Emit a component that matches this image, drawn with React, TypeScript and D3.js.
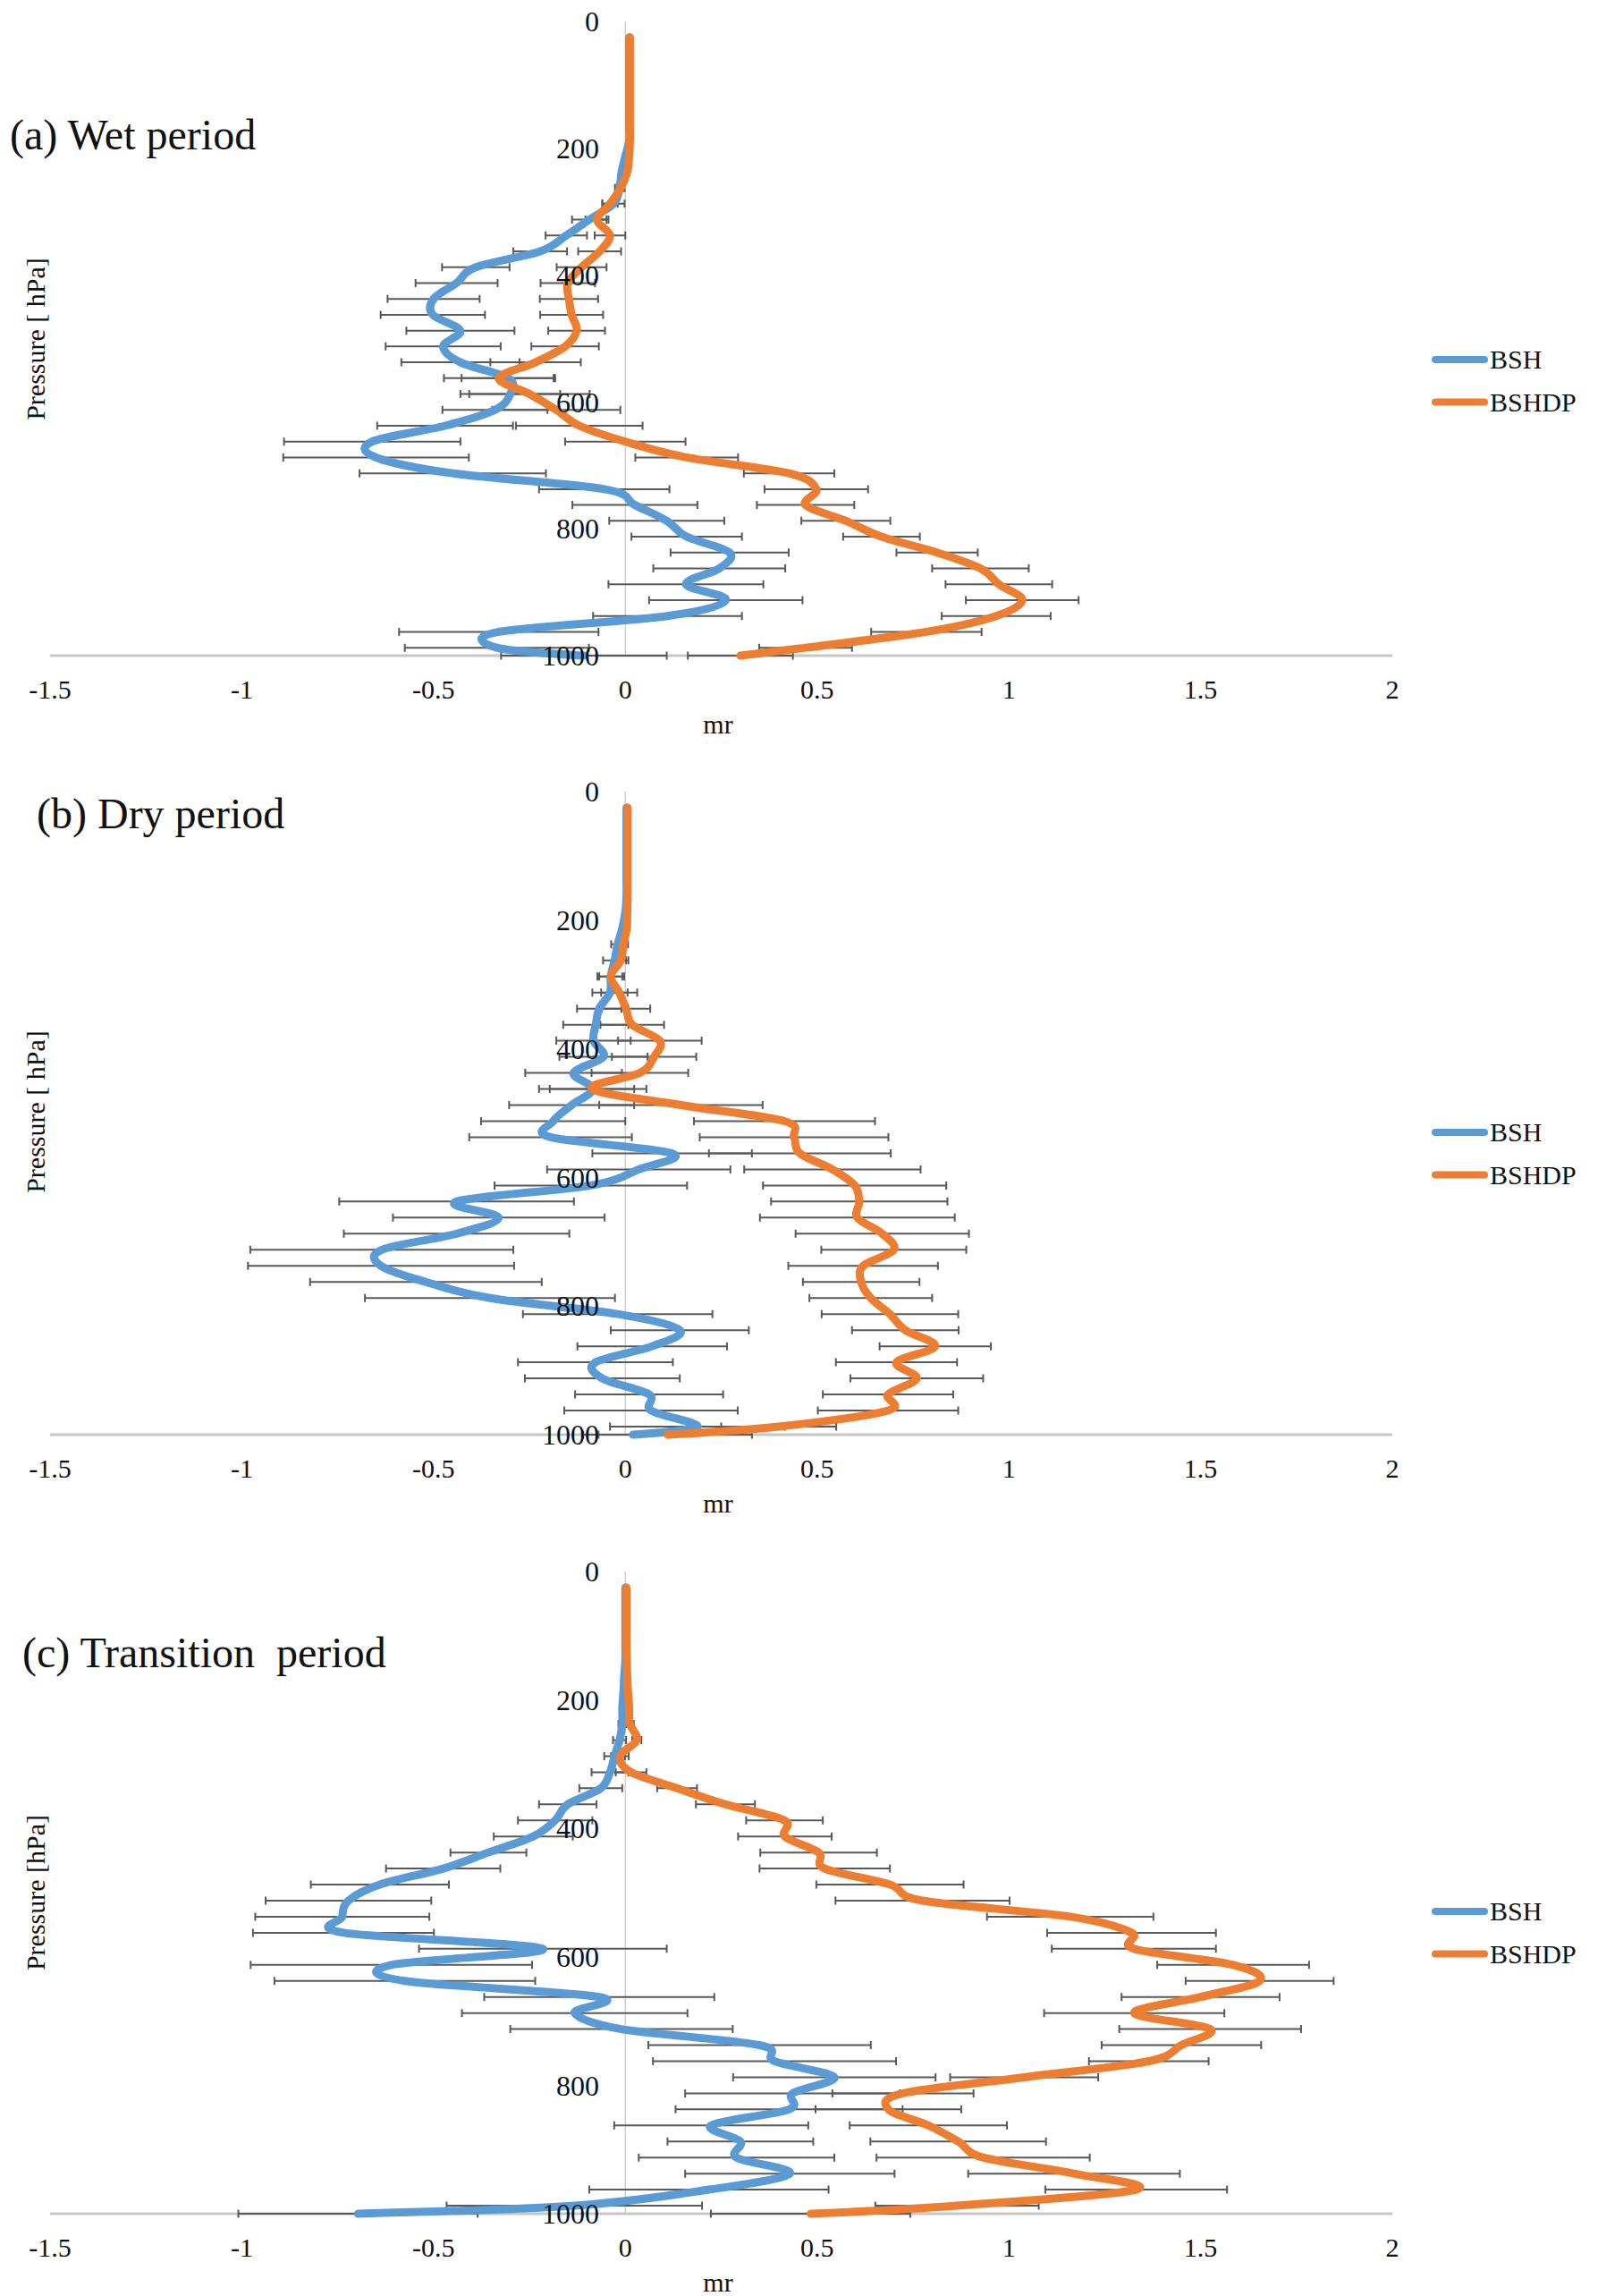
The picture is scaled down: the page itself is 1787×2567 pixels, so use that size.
import React from 'react';
import * as d3 from 'd3';

// Pressure levels (hPa) of the profile points
const PRESSURE = [25, 62.5, 87.5, 112.5, 137.5, 162.5, 187.5, 212.5, 237.5, 262.5, 287.5, 312.5, 337.5, 362.5, 387.5, 412.5, 437.5, 462.5, 487.5, 512.5, 537.5, 562.5, 587.5, 612.5, 637.5, 662.5, 687.5, 712.5, 737.5, 762.5, 787.5, 812.5, 837.5, 862.5, 887.5, 912.5, 937.5, 962.5, 987.5, 1000];

const X_TICKS = [-1.5, -1, -0.5, 0, 0.5, 1, 1.5, 2];
const Y_TICKS = [0, 200, 400, 600, 800, 1000];
const SERIES_NAMES = ['BSH', 'BSHDP'];

// (a) Wet period
const WET_BSH = [0.01, 0.01, 0.01, 0.01, 0.01, 0.01, 0.01, 0.0, -0.01, -0.015, -0.031, -0.094, -0.154, -0.222, -0.39, -0.44, -0.5, -0.502, -0.43, -0.475, -0.43, -0.305, -0.3, -0.34, -0.47, -0.66, -0.65, -0.45, -0.055, 0.025, 0.108, 0.16, 0.272, 0.245, 0.158, 0.262, 0.11, -0.33, -0.335, -0.108];
const WET_BSH_ERR = [0, 0, 0, 0, 0, 0, 0, 0, 0.005, 0.012, 0.029, 0.045, 0.054, 0.07, 0.088, 0.107, 0.12, 0.136, 0.141, 0.15, 0.154, 0.122, 0.13, 0.137, 0.177, 0.23, 0.242, 0.243, 0.17, 0.163, 0.15, 0.144, 0.154, 0.172, 0.202, 0.2, 0.194, 0.26, 0.24, 0.216];
const WET_BSHDP = [0.012, 0.012, 0.012, 0.012, 0.012, 0.012, 0.012, 0.01, 0.005, -0.012, -0.04, -0.074, -0.04, -0.067, -0.114, -0.15, -0.147, -0.14, -0.127, -0.157, -0.234, -0.33, -0.25, -0.18, -0.12, 0.0, 0.16, 0.427, 0.498, 0.47, 0.575, 0.668, 0.813, 0.926, 0.974, 1.035, 0.967, 0.785, 0.47, 0.3];
const WET_BSHDP_ERR = [0, 0, 0, 0, 0, 0, 0, 0, 0.005, 0.01, 0.02, 0.03, 0.04, 0.056, 0.065, 0.071, 0.076, 0.082, 0.074, 0.088, 0.118, 0.143, 0.157, 0.167, 0.165, 0.157, 0.134, 0.118, 0.135, 0.127, 0.116, 0.1, 0.106, 0.126, 0.139, 0.147, 0.142, 0.144, 0.121, 0.137];

// (b) Dry period
const DRY_BSH = [0.003, 0.003, 0.003, 0.003, 0.003, 0.003, 0.0, -0.008, -0.02, -0.028, -0.038, -0.04, -0.068, -0.077, -0.083, -0.057, -0.135, -0.085, -0.14, -0.188, -0.195, 0.122, 0.035, -0.09, -0.44, -0.33, -0.44, -0.635, -0.637, -0.52, -0.353, -0.02, 0.142, 0.07, -0.078, -0.06, 0.062, 0.067, 0.188, 0.02];
const DRY_BSH_ERR = [0, 0, 0, 0, 0, 0, 0, 0.005, 0.017, 0.03, 0.035, 0.046, 0.058, 0.085, 0.097, 0.115, 0.126, 0.14, 0.163, 0.188, 0.212, 0.208, 0.239, 0.251, 0.306, 0.276, 0.294, 0.343, 0.347, 0.302, 0.326, 0.247, 0.18, 0.195, 0.202, 0.202, 0.193, 0.226, 0.228, 0.09];
const DRY_BSHDP = [0.006, 0.006, 0.006, 0.006, 0.006, 0.006, 0.005, 0.004, -0.005, -0.012, -0.038, -0.016, 0.002, 0.018, 0.09, 0.075, 0.038, -0.087, 0.145, 0.415, 0.44, 0.455, 0.54, 0.598, 0.61, 0.605, 0.67, 0.7, 0.62, 0.615, 0.64, 0.69, 0.73, 0.808, 0.707, 0.76, 0.685, 0.685, 0.4, 0.11];
const DRY_BSHDP_ERR = [0, 0, 0, 0, 0, 0, 0, 0.004, 0.012, 0.02, 0.03, 0.047, 0.063, 0.083, 0.109, 0.11, 0.126, 0.11, 0.213, 0.236, 0.246, 0.237, 0.23, 0.239, 0.23, 0.254, 0.226, 0.189, 0.195, 0.152, 0.16, 0.178, 0.139, 0.145, 0.158, 0.173, 0.17, 0.183, 0.15, 0.22];

// (c) Transition period
const TRANS_BSH = [0, 0, 0, 0, 0, -0.003, -0.005, -0.008, -0.008, -0.015, -0.028, -0.04, -0.064, -0.15, -0.183, -0.24, -0.357, -0.475, -0.64, -0.722, -0.738, -0.735, -0.215, -0.61, -0.575, -0.068, -0.132, -0.01, 0.35, 0.389, 0.545, 0.436, 0.427, 0.224, 0.3, 0.29, 0.429, 0.218, -0.133, -0.697];
const TRANS_BSH_ERR = [0, 0, 0, 0, 0, 0, 0, 0, 0.01, 0.017, 0.027, 0.048, 0.056, 0.075, 0.097, 0.103, 0.099, 0.149, 0.18, 0.216, 0.227, 0.236, 0.323, 0.367, 0.34, 0.3, 0.294, 0.29, 0.29, 0.317, 0.264, 0.28, 0.296, 0.253, 0.19, 0.255, 0.273, 0.312, 0.333, 0.312];
const TRANS_BSHDP = [0.003, 0.003, 0.003, 0.003, 0.004, 0.005, 0.007, 0.01, 0.012, 0.03, -0.014, 0.015, 0.135, 0.261, 0.415, 0.416, 0.504, 0.52, 0.69, 0.775, 1.16, 1.32, 1.326, 1.585, 1.654, 1.5, 1.327, 1.525, 1.45, 1.365, 1.04, 0.724, 0.686, 0.79, 0.868, 0.933, 1.17, 1.332, 0.865, 0.483];
const TRANS_BSHDP_ERR = [0, 0, 0, 0, 0, 0, 0, 0, 0.01, 0.012, 0.023, 0.04, 0.052, 0.077, 0.1, 0.122, 0.152, 0.17, 0.192, 0.227, 0.217, 0.22, 0.214, 0.198, 0.193, 0.206, 0.235, 0.237, 0.208, 0.156, 0.193, 0.184, 0.19, 0.205, 0.229, 0.278, 0.276, 0.237, 0.213, 0.26];

const COLORS = ['#5B9BD5', '#ED7D31'];
const FONT = "'Liberation Serif', 'Times New Roman', serif";

const PANELS = [
  { title: '(a) Wet period', titleX: 11, titleY: 167, yTitle: 'Pressure [ hPa]', yTitleY: 379, top: 24, bottom: 733, legendY: 402,
    series: [[WET_BSH, WET_BSH_ERR], [WET_BSHDP, WET_BSHDP_ERR]] },
  { title: '(b) Dry period', titleX: 41, titleY: 926, yTitle: 'Pressure [ hPa]', yTitleY: 1243, top: 885, bottom: 1604, legendY: 1266,
    series: [[DRY_BSH, DRY_BSH_ERR], [DRY_BSHDP, DRY_BSHDP_ERR]] },
  { title: '(c) Transition  period', titleX: 25, titleY: 1864, yTitle: 'Pressure [hPa]', yTitleY: 2116, top: 1757, bottom: 2475, legendY: 2137,
    series: [[TRANS_BSH, TRANS_BSH_ERR], [TRANS_BSHDP, TRANS_BSHDP_ERR]] },
];

function Panel({ cfg }: { cfg: any }) {
  const x = d3.scaleLinear().domain([-1.5, 2]).range([56, 1557]);
  const y = d3.scaleLinear().domain([0, 1000]).range([cfg.top, cfg.bottom]);
  const line = d3.line<number>()
    .x((v) => x(v))
    .y((_, i) => y(PRESSURE[i]))
    .curve(d3.curveCardinal.tension(0));
  const cap = 4.5;
  return (
    <g>
      <text x={cfg.titleX} y={cfg.titleY} fontSize={48} fontFamily={FONT} style={{ whiteSpace: 'pre' }} fill="#111">{cfg.title}</text>
      <text transform={`translate(50,${cfg.yTitleY}) rotate(-90)`} textAnchor="middle" fontSize={30} fontFamily={FONT} fill="#111" style={{ whiteSpace: 'pre' }}>{cfg.yTitle}</text>
      <line x1={x(0)} x2={x(0)} y1={y(0)} y2={y(1000)} stroke="#d0d0d0" strokeWidth={1.5} />
      <line x1={x(-1.5)} x2={x(2)} y1={y(1000)} y2={y(1000)} stroke="#c6c6c6" strokeWidth={3} />
      {cfg.series.map((s: any, si: number) => (
        <g key={'e' + si} stroke="#595959" strokeWidth={2} fill="none">
          {s[0].map((v: number, i: number) => {
            const e = s[1][i];
            if (e < 0.003) return null;
            const yy = y(PRESSURE[i]);
            const x1 = x(v - e), x2 = x(v + e);
            return <path key={i} d={`M${x1},${yy}H${x2}M${x1},${yy - cap}V${yy + cap}M${x2},${yy - cap}V${yy + cap}`} />;
          })}
        </g>
      ))}
      {cfg.series.map((s: any, si: number) => (
        <path key={'l' + si} d={line(s[0]) || ''} fill="none" stroke={COLORS[si]} strokeWidth={9} strokeLinecap="round" strokeLinejoin="round" />
      ))}
      {Y_TICKS.map((t) => (
        <text key={t} x={670} y={y(t)} dy="0.35em" textAnchor="end" fontSize={32} fontFamily={FONT} fill="#111">{t}</text>
      ))}
      {X_TICKS.map((t) => (
        <text key={t} x={x(t)} y={cfg.bottom + 48} textAnchor="middle" fontSize={30} fontFamily={FONT} fill="#111">{String(t)}</text>
      ))}
      <text x={803} y={cfg.bottom + 87} textAnchor="middle" fontSize={30} fontFamily={FONT} fill="#111">mr</text>
      {SERIES_NAMES.map((n, i) => (
        <g key={n}>
          <line x1={1605} x2={1660} y1={cfg.legendY + i * 47.5} y2={cfg.legendY + i * 47.5} stroke={COLORS[i]} strokeWidth={8} strokeLinecap="round" />
          <text x={1666} y={cfg.legendY + i * 47.5 + 10} fontSize={30} fontFamily={FONT} fill="#111">{n}</text>
        </g>
      ))}
    </g>
  );
}

export default function App() {
  return (
    <svg width={1787} height={2567} style={{ position: 'absolute', left: 0, top: 0, background: '#fff' }}>
      <rect width={1787} height={2567} fill="#fff" />
      {PANELS.map((p, i) => <Panel key={i} cfg={p} />)}
    </svg>
  );
}
